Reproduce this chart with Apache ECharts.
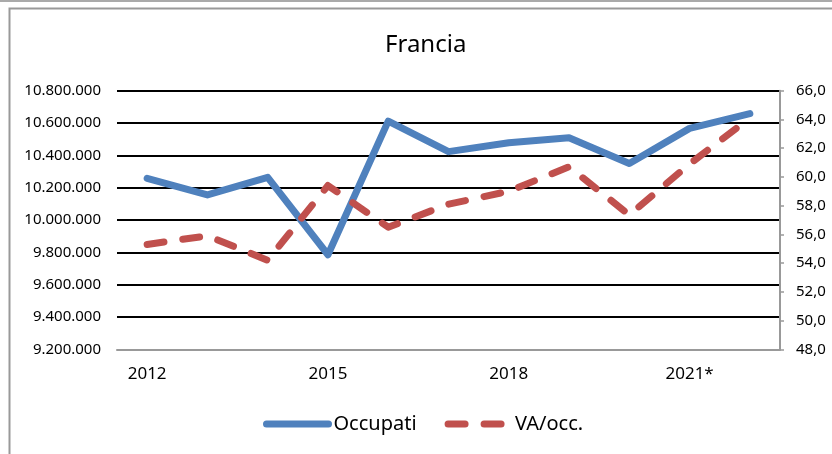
<!DOCTYPE html>
<html>
<head>
<meta charset="utf-8">
<title>Francia</title>
<script src="https://cdn.jsdelivr.net/npm/echarts@6/dist/echarts.min.js"></script>
<style>
  html, body { margin: 0; padding: 0; background: #fff; }
  #chart { width: 832px; height: 454px; }
</style>
</head>
<body>
<div id="chart"></div>
<script>
// dati
const years = ["2012", "2013", "2014", "2015", "2016", "2017", "2018", "2019", "2020", "2021*", "2022*"];
const occupati = [10258000, 10155000, 10264000, 9785000, 10612000, 10423000, 10478000, 10509000, 10350000, 10567000, 10658000];
const vaOcc = [55.3, 55.9, 54.2, 59.4, 56.5, 58.1, 59.0, 60.7, 57.35, 60.9, 64.1];

const leftMin = 9200000, leftMax = 10800000, leftStep = 200000;
const rightMin = 48, rightMax = 66, rightStep = 2;

const chart = echarts.init(document.getElementById("chart"));

function dots(v) {
  return String(v).replace(/\B(?=(\d{3})+(?!\d))/g, ".");
}

// la prima linea (minimo) è grigia come l'asse
const gridColors = ["#999"];
for (let i = 0; i < 8; i++) gridColors.push("#000");

const option = {
  animation: false,
  textStyle: { fontFamily: "Noto Sans", color: "#000" },
  title: {
    text: "Francia",
    left: 380,
    top: 28,
    textStyle: { fontSize: 24, fontWeight: "normal", color: "#000", fontFamily: "Noto Sans" }
  },
  graphic: [
    { type: "line", shape: { x1: 0, y1: 1, x2: 832, y2: 1 }, style: { stroke: "#aaa", lineWidth: 2 } },
    { type: "rect", shape: { x: 9.5, y: 8.5, width: 900, height: 600 }, style: { stroke: "#999", lineWidth: 2, fill: "none" } }
  ],
  legend: {
    left: 258,
    top: 409,
    itemWidth: 62,
    itemHeight: 14,
    itemGap: 28,
    itemStyle: { color: "transparent", borderColor: "transparent", borderWidth: 0 },
    lineStyle: { width: 7, cap: "round" },
    textStyle: { fontSize: 20, color: "#000", fontFamily: "Noto Sans" },
    data: ["Occupati", "VA/occ."]
  },
  grid: { left: 117, right: 52, top: 90.7, bottom: 104.7 },
  xAxis: {
    type: "category",
    data: years,
    boundaryGap: true,
    axisLine: { lineStyle: { color: "#999", width: 2 } },
    axisTick: { show: false },
    axisLabel: { interval: 2, fontSize: 17, color: "#000", margin: 16 }
  },
  yAxis: [
    {
      type: "value",
      min: leftMin,
      max: leftMax,
      interval: leftStep,
      axisLine: { show: false },
      axisTick: { show: false },
      axisLabel: { fontSize: 15, color: "#000", margin: 16, formatter: dots },
      splitLine: { lineStyle: { color: gridColors, width: 2 } }
    },
    {
      type: "value",
      min: rightMin,
      max: rightMax,
      interval: rightStep,
      position: "right",
      alignTicks: false,
      axisLine: { show: true, lineStyle: { color: "#999", width: 2 } },
      axisTick: { show: true, length: 4, lineStyle: { color: "#999", width: 1.5 } },
      axisLabel: { fontSize: 15, color: "#000", margin: 16, formatter: v => v.toFixed(1).replace(".", ",") },
      splitLine: { show: false }
    }
  ],
  series: [
    {
      name: "Occupati",
      type: "line",
      yAxisIndex: 0,
      data: occupati,
      symbol: "none",
      color: "#4F81BD",
      lineStyle: { color: "#4F81BD", width: 7, cap: "round", join: "round" }
    },
    {
      name: "VA/occ.",
      type: "line",
      yAxisIndex: 1,
      data: vaOcc,
      symbol: "none",
      color: "#C0504D",
      lineStyle: { color: "#C0504D", width: 7, type: [17, 19], cap: "round", join: "round" }
    }
  ]
};

chart.setOption(option);
</script>
</body>
</html>
